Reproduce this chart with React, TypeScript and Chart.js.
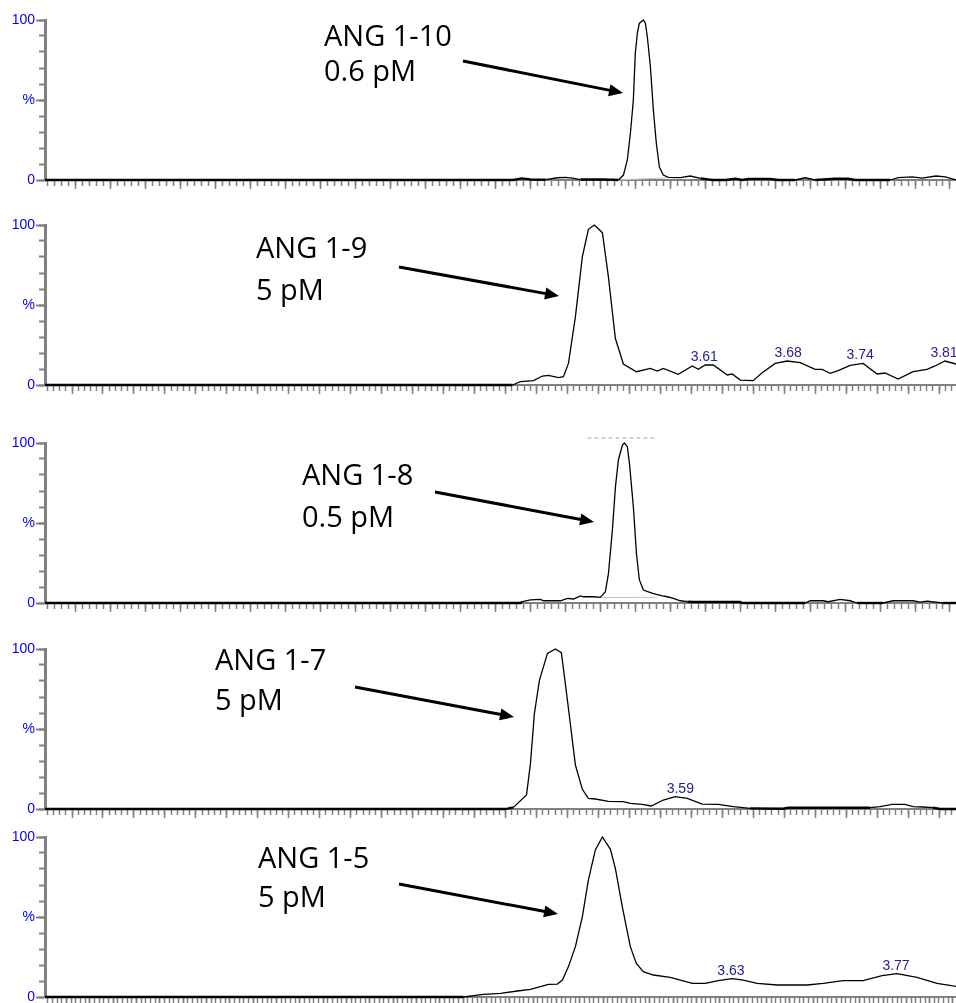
import React, { useEffect, useRef } from "react";
import { Chart, registerables } from "chart.js";

Chart.register(...registerables);

// ---------- DATA (retention time in min, intensity in %) ----------
const p1Time = [3.0779, 3.4129, 3.4186, 3.425, 3.4358, 3.4443, 3.45, 3.455, 3.4608, 3.475, 3.4836, 3.4879, 3.4915, 3.4943, 3.4965, 3.4986, 3.5, 3.5015, 3.5029, 3.5058, 3.5072, 3.5086, 3.5108, 3.5129, 3.515, 3.5172, 3.52, 3.5236, 3.5322, 3.5393, 3.5465, 3.555, 3.5643, 3.5715, 3.5765, 3.5808, 3.5965, 3.6022, 3.6143, 3.6215, 3.6286, 3.6429, 3.6522, 3.6572, 3.6822, 3.6879, 3.6979, 3.705, 3.715, 3.7215, 3.7293];
const p1Intensity = [0, 0, 1.0, 0.3, 0.2, 1.4, 1.7, 1.2, 0.3, 0.3, 0.2, 0, 3.1, 12.5, 29.4, 50, 79.4, 92, 98, 100, 98, 89.4, 70.6, 43.8, 23.1, 8.1, 3.1, 1.7, 1.5, 2.5, 1.0, 0, 0, 0.8, 0, 0.6, 0.6, 0, 0, 1.4, 0, 0.8, 0.8, 0, 0, 1.5, 2, 1.2, 2.5, 2.0, 0];
const p1BaseTime = [3.4879, 3.5229];
const p1BaseIntensity = [0, 1.4];

const p2Time = [3.06, 3.45, 3.4567, 3.4675, 3.475, 3.48, 3.4883, 3.4925, 3.4967, 3.5025, 3.5083, 3.5133, 3.5183, 3.525, 3.53, 3.5358, 3.5425, 3.5533, 3.565, 3.5708, 3.5758, 3.5883, 3.6, 3.605, 3.6108, 3.6175, 3.6292, 3.6333, 3.64, 3.6508, 3.6583, 3.6692, 3.6792, 3.69, 3.7025, 3.7083, 3.715, 3.7217, 3.7317, 3.7425, 3.7542, 3.7608, 3.7717, 3.7842, 3.7958, 3.8025, 3.8108, 3.82];
const p2Intensity = [0, 0, 2.1, 2.7, 5.6, 6.0, 4.6, 5.2, 13.5, 42.7, 80.2, 97.3, 100, 95.2, 67.7, 29.2, 13.1, 8.3, 10.4, 8.75, 10.4, 6.7, 11.9, 9.8, 12.5, 12.5, 6.25, 6.9, 3.1, 2.7, 7.7, 13.5, 15, 14, 9.8, 9.8, 7.3, 9.0, 12.3, 13.5, 6.9, 7.5, 3.75, 8.3, 9.8, 11.9, 15, 13.1];
const p2PeakTimes = [3.61, 3.68, 3.74, 3.81];
const p2PeakHeights = [12.5, 15, 13.5, 15];
const p2PeakLabels = ["3.61", "3.68", "3.74", "3.81"];

const p3Time = [3.0779, 3.4179, 3.4193, 3.425, 3.4322, 3.4343, 3.4465, 3.4515, 3.4558, 3.4608, 3.4629, 3.47, 3.475, 3.4786, 3.4808, 3.4836, 3.4858, 3.4879, 3.4908, 3.4922, 3.4943, 3.4958, 3.4986, 3.5008, 3.5029, 3.5058, 3.5108, 3.5143, 3.5193, 3.5229, 3.5272, 3.5322, 3.5372, 3.5415, 3.575, 3.5765, 3.6215, 3.625, 3.6343, 3.6379, 3.6465, 3.6536, 3.6586, 3.6772, 3.6843, 3.6986, 3.7036, 3.7086, 3.72, 3.7293];
const p3Intensity = [0, 0, 0.8, 1.9, 2.3, 1.4, 1.4, 2.9, 2.5, 4.4, 3.9, 3.9, 3.5, 7.1, 18.5, 45.6, 72.7, 89.4, 98.75, 100, 97.7, 87.3, 60.2, 31, 14.4, 8.1, 6.5, 5.6, 4.4, 3.9, 2.9, 1.4, 0.8, 0.6, 0.6, 0, 0, 1.4, 1.4, 0.8, 2.3, 1.4, 0, 0, 1.4, 1.4, 0.6, 1.2, 0, 0];
const p3BaseTime = [3.4765, 3.5158];
const p3BaseIntensity = [3.4, 3.5];
const p3MarkTime = [3.4658, 3.5143];
const p3MarkLevel = [103.1, 103.1];

const p4Time = [3.06, 3.4442, 3.4458, 3.4508, 3.4617, 3.465, 3.4683, 3.4725, 3.4792, 3.4858, 3.4908, 3.4958, 3.5025, 3.5083, 3.5133, 3.5192, 3.53, 3.5425, 3.5483, 3.5583, 3.5658, 3.5758, 3.5858, 3.5958, 3.6083, 3.6217, 3.6342, 3.6483, 3.6758, 3.68, 3.7483, 3.7567, 3.7667, 3.7775, 3.7842, 3.7925, 3.8008, 3.8067, 3.82];
const p4Intensity = [0, 0, 0.2, 1, 8.75, 28.5, 59.8, 80.6, 97.3, 100, 97.7, 68.1, 27.5, 12.3, 6.7, 6.25, 4.8, 4.6, 3.5, 2.9, 1.9, 5.6, 7.7, 6.7, 3.1, 2.9, 1.5, 0.4, 0.2, 0.8, 0.8, 1.5, 2.9, 2.9, 1.5, 1.25, 0.8, 0, 0];
const p4PeakTimes = [3.59];
const p4PeakHeights = [7.7];
const p4PeakLabels = ["3.59"];

const p5Time = [3.048, 3.4031, 3.42, 3.4344, 3.4488, 3.4599, 3.4683, 3.4751, 3.4827, 3.487, 3.4921, 3.498, 3.5039, 3.509, 3.5149, 3.5209, 3.5277, 3.5319, 3.5378, 3.5446, 3.5497, 3.5556, 3.5641, 3.5785, 3.587, 3.5972, 3.6082, 3.6192, 3.6311, 3.6404, 3.6522, 3.6692, 3.6946, 3.7082, 3.7251, 3.7421, 3.7582, 3.7709, 3.7878, 3.8048, 3.8183, 3.8209];
const p5Intensity = [0, 0, 1.7, 2.3, 3.75, 4.8, 6.5, 7.9, 8.1, 10.6, 19, 31.5, 50.2, 73.1, 91.9, 100, 92.3, 80.4, 56.4, 31.5, 21, 15.8, 13.75, 12.3, 10.6, 8.5, 8.5, 10.2, 11.5, 10.6, 8.5, 7.5, 7.5, 8.5, 10.2, 10.2, 13.3, 14.6, 12.3, 8.5, 6.9, 6.7];
const p5PeakTimes = [3.63, 3.77];
const p5PeakHeights = [11.5, 14.6];
const p5PeakLabels = ["3.63", "3.77"];

const yTickValues = [0, 50, 100];
const yTickLabels = ["0", "%", "100"];
const yMinorStep = 10;

const annotationText = [
  ["ANG 1-10", "0.6 pM"],
  ["ANG 1-9", "5 pM"],
  ["ANG 1-8", "0.5 pM"],
  ["ANG 1-7", "5 pM"],
  ["ANG 1-5", "5 pM"],
];

// ---------- LAYOUT ----------
const W = 956;
const H = 1003;
const PAD_TOP = 12;
const PLOT_H = 160;
const XAXIS_H = 16;
const YAXIS_W = 45;
const GRAY = "#808080";

const panels = [
  { top: 20, time: p1Time, inten: p1Intensity, baseT: p1BaseTime, baseI: p1BaseIntensity, xMin: 3.0779, xMax: 3.7293, majorStart: 3.1, majorStep: 0.025 },
  { top: 225, time: p2Time, inten: p2Intensity, peakT: p2PeakTimes, peakH: p2PeakHeights, peakL: p2PeakLabels, xMin: 3.06, xMax: 3.82, majorStart: 3.4442, majorStep: 0.025833 },
  { top: 443, time: p3Time, inten: p3Intensity, baseT: p3BaseTime, baseI: p3BaseIntensity, markT: p3MarkTime, markL: p3MarkLevel, xMin: 3.0779, xMax: 3.7293, majorStart: 3.1, majorStep: 0.025 },
  { top: 649, time: p4Time, inten: p4Intensity, peakT: p4PeakTimes, peakH: p4PeakHeights, peakL: p4PeakLabels, xMin: 3.06, xMax: 3.82, majorStart: 3.4442, majorStep: 0.025833 },
  { top: 837, time: p5Time, inten: p5Intensity, peakT: p5PeakTimes, peakH: p5PeakHeights, peakL: p5PeakLabels, xMin: 3.048, xMax: 3.8209, majorStart: 3.5215, majorStep: 0.01979 },
];

const annotationLayout = [
  { left: 324, base1: 46, base2: 81, from: [463, 61], tip: [623, 93] },
  { left: 256, base1: 258, base2: 300, from: [399, 267], tip: [559, 296] },
  { left: 302, base1: 485, base2: 527, from: [435, 492], tip: [594, 522] },
  { left: 215, base1: 670, base2: 710, from: [355, 687], tip: [514, 717] },
  { left: 258, base1: 868, base2: 907, from: [399, 884], tip: [558, 914] },
];

const zip = (t: number[], v: number[]) => t.slice(0, Math.min(t.length, v.length)).map((x, i) => ({ x, y: v[i] }));

function stepTicks(min: number, max: number, start: number, step: number) {
  const out: { value: number }[] = [];
  const k0 = Math.ceil((min - start) / step - 1e-9);
  for (let k = k0; start + k * step <= max + 1e-9; k++) out.push({ value: start + k * step });
  return out;
}

const peakLabelPlugin = {
  id: "peakLabels",
  afterDatasetsDraw(chart: any, _args: any, opts: any) {
    if (!opts || !opts.labels || !opts.labels.length) return;
    const { ctx } = chart;
    const xs = chart.scales.x;
    const ys = chart.scales.y;
    ctx.save();
    ctx.font = '14px "Liberation Sans", Arial, sans-serif';
    ctx.fillStyle = "#22229a";
    ctx.textAlign = "center";
    ctx.textBaseline = "alphabetic";
    opts.labels.forEach((t: string, i: number) => {
      ctx.fillText(t, xs.getPixelForValue(opts.times[i]), ys.getPixelForValue(opts.heights[i]) - 4);
    });
    ctx.restore();
  },
};

function Panel({ p }: { p: any }) {
  const ref = useRef<HTMLCanvasElement>(null);
  useEffect(() => {
    if (!ref.current) return;
    const datasets: any[] = [
      {
        data: zip(p.time, p.inten),
        borderColor: "#000",
        borderWidth: 1.3,
        pointRadius: 0,
        tension: 0,
        clip: false,
        fill: false,
        segment: {
          borderWidth: (c: any) => (c.p0.parsed.y <= 1 && c.p1.parsed.y <= 1 ? 2.4 : 1.3),
        },
      },
    ];
    if (p.baseT) datasets.push({ data: zip(p.baseT, p.baseI), borderColor: "#c4c4c4", borderWidth: 1, pointRadius: 0, tension: 0, clip: false });
    if (p.markT) datasets.push({ data: zip(p.markT, p.markL), borderColor: "#9c9cdc", borderWidth: 1, borderDash: [4, 3], pointRadius: 0, tension: 0, clip: false });
    const minorStep = p.majorStep / 5;
    const chart = new Chart(ref.current, {
      type: "line",
      data: { datasets },
      plugins: [peakLabelPlugin],
      options: {
        animation: false,
        responsive: false,
        maintainAspectRatio: false,
        devicePixelRatio: 1,
        events: [],
        layout: { padding: { top: PAD_TOP, left: 0, right: 0, bottom: 0 } },
        plugins: {
          legend: { display: false },
          tooltip: { enabled: false },
          peakLabels: { labels: p.peakL || [], times: p.peakT || [], heights: p.peakH || [] },
        } as any,
        scales: {
          x: {
            type: "linear",
            position: "bottom",
            min: p.xMin,
            max: p.xMax,
            afterBuildTicks: (s: any) => { s.ticks = stepTicks(p.xMin, p.xMax, p.majorStart, p.majorStep); },
            afterFit: (s: any) => { s.height = XAXIS_H; },
            grid: { display: true, drawOnChartArea: false, drawTicks: true, tickLength: 9, tickColor: GRAY, tickWidth: 1.5 },
            border: { display: true, color: GRAY, width: 2 },
            ticks: { display: false, autoSkip: false },
          },
          xm: {
            type: "linear",
            axis: "x",
            position: { y: 0 },
            min: p.xMin,
            max: p.xMax,
            afterBuildTicks: (s: any) => { s.ticks = stepTicks(p.xMin, p.xMax, p.majorStart, minorStep); },
            grid: { display: true, drawOnChartArea: false, drawTicks: true, tickLength: 6, tickColor: GRAY, tickWidth: 1.5 },
            border: { display: false },
            ticks: { display: false, autoSkip: false },
          },
          y: {
            type: "linear",
            position: "left",
            min: 0,
            max: 100,
            afterBuildTicks: (s: any) => { s.ticks = yTickValues.map((v) => ({ value: v })); },
            afterFit: (s: any) => { s.width = YAXIS_W; },
            grid: { display: true, drawOnChartArea: false, drawTicks: true, tickLength: 9, tickColor: GRAY, tickWidth: 2 },
            border: { display: true, color: GRAY, width: 3 },
            ticks: {
              autoSkip: false,
              padding: 1,
              color: "#0000ee",
              font: { family: '"Liberation Sans", Arial, sans-serif', size: 14 },
              callback: (v: any) => {
                const i = yTickValues.indexOf(Number(v));
                return i >= 0 ? yTickLabels[i] : "";
              },
            },
          },
          ym: {
            type: "linear",
            axis: "y",
            position: { x: p.xMin },
            min: 0,
            max: 100,
            afterBuildTicks: (s: any) => { s.ticks = stepTicks(0, 100, 0, yMinorStep); },
            grid: { display: true, drawOnChartArea: false, drawTicks: true, tickLength: 6, tickColor: GRAY, tickWidth: 2 },
            border: { display: false },
            ticks: { display: false, autoSkip: false },
          },
        } as any,
      },
    } as any);
    return () => chart.destroy();
  }, [p]);
  const ch = PAD_TOP + PLOT_H + XAXIS_H;
  return (
    <canvas
      ref={ref}
      width={W}
      height={ch}
      style={{ position: "absolute", left: 0, top: p.top - PAD_TOP, width: W, height: ch, display: "block" }}
    />
  );
}

function Arrow({ from, tip }: { from: number[]; tip: number[] }) {
  const dx = tip[0] - from[0];
  const dy = tip[1] - from[1];
  const len = Math.hypot(dx, dy);
  const ux = dx / len, uy = dy / len;
  const hl = 14, hw = 6;
  const bx = tip[0] - ux * hl, by = tip[1] - uy * hl;
  const nx = -uy, ny = ux;
  return (
    <g>
      <line x1={from[0]} y1={from[1]} x2={bx + ux * 2} y2={by + uy * 2} stroke="#000" strokeWidth={3} />
      <polygon points={`${tip[0]},${tip[1]} ${bx + nx * hw},${by + ny * hw} ${bx - nx * hw},${by - ny * hw}`} fill="#000" />
    </g>
  );
}

export default function App() {
  const textStyle: React.CSSProperties = {
    position: "absolute",
    fontFamily: '"Open Sans", "Noto Sans", sans-serif',
    fontSize: 29,
    lineHeight: "29px",
    color: "#000",
    whiteSpace: "nowrap",
  };
  return (
    <div style={{ position: "absolute", left: 0, top: 0, width: W, height: H, overflow: "hidden", background: "#fff" }}>
      {panels.map((p, i) => (
        <Panel key={i} p={p} />
      ))}
      <svg width={W} height={H} style={{ position: "absolute", left: 0, top: 0, pointerEvents: "none" }}>
        {annotationLayout.map((a, i) => (
          <Arrow key={i} from={a.from} tip={a.tip} />
        ))}
      </svg>
      {annotationLayout.map((a, i) => (
        <React.Fragment key={i}>
          <div style={{ ...textStyle, left: a.left, top: a.base1 - 26 }}>{annotationText[i][0]}</div>
          <div style={{ ...textStyle, left: a.left, top: a.base2 - 26 }}>{annotationText[i][1]}</div>
        </React.Fragment>
      ))}
    </div>
  );
}
